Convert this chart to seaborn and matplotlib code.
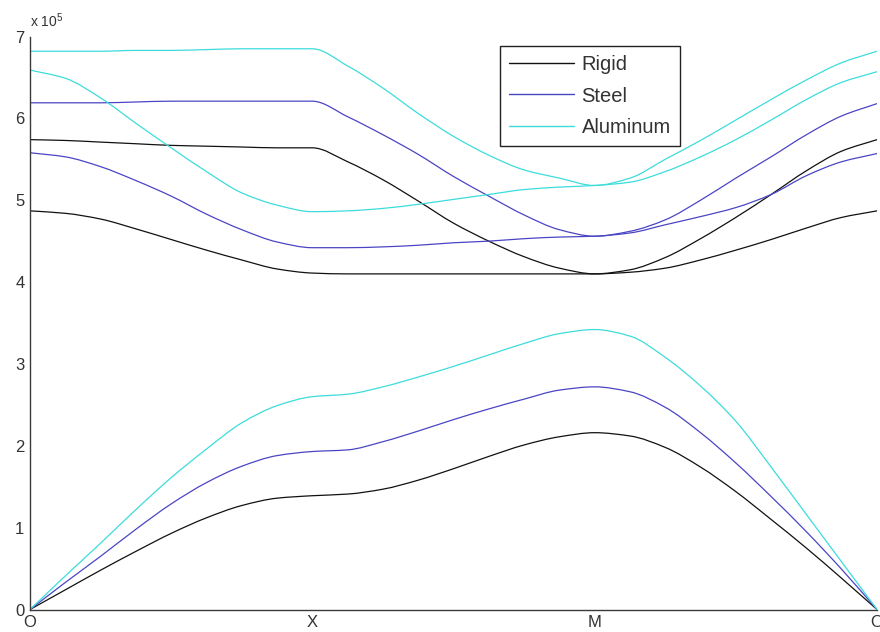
import matplotlib
matplotlib.use("Agg")
import matplotlib.pyplot as plt
from matplotlib.lines import Line2D
from matplotlib.path import Path
from matplotlib.patches import PathPatch
import numpy as np
import pandas as pd
import seaborn as sns

# Wave-vector path O -> X -> M -> O, sampled every 1/8 of a segment
k_path = [i / 8 for i in range(25)]
k_ticks = [0, 1, 2, 3]
k_tick_labels = ["O", "X", "M", "O"]

# Frequencies in units of 1e5
rigid_1 = [0.00, 0.24, 0.48, 0.71, 0.93, 1.12, 1.27, 1.36, 1.39,
           1.41, 1.47, 1.58, 1.72, 1.87, 2.01, 2.11, 2.16,
           2.12, 1.98, 1.74, 1.44, 1.10, 0.75, 0.38, 0.00]
rigid_2 = [4.87, 4.84, 4.77, 4.65, 4.52, 4.39, 4.27, 4.16, 4.11,
           4.10, 4.10, 4.10, 4.10, 4.10, 4.10, 4.10, 4.10,
           4.12, 4.17, 4.27, 4.39, 4.52, 4.66, 4.79, 4.87]
rigid_3 = [5.74, 5.73, 5.71, 5.69, 5.67, 5.66, 5.65, 5.64, 5.64,
           5.47, 5.25, 4.99, 4.72, 4.50, 4.31, 4.17, 4.10,
           4.15, 4.30, 4.53, 4.79, 5.07, 5.36, 5.60, 5.74]

steel_1 = [0.00, 0.33, 0.65, 0.98, 1.29, 1.55, 1.75, 1.88, 1.93,
           1.95, 2.05, 2.18, 2.32, 2.45, 2.57, 2.68, 2.72,
           2.66, 2.47, 2.16, 1.79, 1.38, 0.95, 0.49, 0.00]
steel_2 = [5.58, 5.53, 5.41, 5.24, 5.05, 4.83, 4.64, 4.49, 4.42,
           4.42, 4.43, 4.45, 4.48, 4.50, 4.53, 4.55, 4.56,
           4.60, 4.70, 4.80, 4.91, 5.07, 5.30, 5.47, 5.57]
steel_3 = [6.19, 6.19, 6.19, 6.20, 6.21, 6.21, 6.21, 6.21, 6.21,
           6.02, 5.80, 5.56, 5.29, 5.05, 4.82, 4.64, 4.56,
           4.62, 4.76, 5.00, 5.27, 5.53, 5.80, 6.03, 6.18]

aluminum_1 = [0.00, 0.41, 0.81, 1.22, 1.61, 1.96, 2.28, 2.49, 2.60,
              2.63, 2.72, 2.84, 2.97, 3.11, 3.25, 3.37, 3.42,
              3.34, 3.08, 2.73, 2.30, 1.74, 1.16, 0.58, 0.00]
aluminum_2 = [6.59, 6.49, 6.25, 5.94, 5.64, 5.35, 5.09, 4.94, 4.86,
              4.87, 4.90, 4.95, 5.01, 5.07, 5.13, 5.16, 5.18,
              5.22, 5.35, 5.53, 5.74, 5.98, 6.23, 6.44, 6.57]
aluminum_3 = [6.82, 6.82, 6.82, 6.83, 6.83, 6.84, 6.85, 6.85, 6.85,
              6.64, 6.37, 6.06, 5.78, 5.55, 5.37, 5.27, 5.18,
              5.27, 5.50, 5.73, 5.98, 6.23, 6.47, 6.68, 6.82]

materials = ["Rigid", "Steel", "Aluminum"]
bands = {
    "Rigid": [rigid_1, rigid_2, rigid_3],
    "Steel": [steel_1, steel_2, steel_3],
    "Aluminum": [aluminum_1, aluminum_2, aluminum_3],
}
colors = {"Rigid": "#111111", "Steel": "#4b45c4", "Aluminum": "#3ddcdc"}

rows = []
for mat in materials:
    for b, series in enumerate(bands[mat], start=1):
        for k, f in zip(k_path, series):
            rows.append({"k": k, "freq": f, "material": mat, "band": b})
df = pd.DataFrame(rows)

sns.set_style("white")
plt.rcParams["font.family"] = ["Liberation Sans", "DejaVu Sans"]
plt.rcParams["mathtext.default"] = "regular"

fig = plt.figure(figsize=(8.8, 6.32), dpi=100)
ax = fig.add_axes([30 / 880, 22.5 / 632, 847 / 880, 573 / 632])

sns.lineplot(data=df, x="k", y="freq", hue="material", units="band",
             estimator=None, sort=False, palette=colors, hue_order=materials,
             linewidth=0.9, legend=False, ax=ax)


def smooth_path(x, y):
    """Monotone cubic (Fritsch-Carlson) Bezier path through the points."""
    x = np.asarray(x, float)
    y = np.asarray(y, float)
    h = np.diff(x)
    d = np.diff(y) / h
    m = np.zeros_like(y)
    m[0], m[-1] = d[0], d[-1]
    for i in range(1, len(y) - 1):
        if d[i - 1] * d[i] > 0:
            w1 = 2 * h[i] + h[i - 1]
            w2 = h[i] + 2 * h[i - 1]
            m[i] = (w1 + w2) / (w1 / d[i - 1] + w2 / d[i])
    verts = [(x[0], y[0])]
    codes = [Path.MOVETO]
    for i in range(len(h)):
        verts += [(x[i] + h[i] / 3, y[i] + m[i] * h[i] / 3),
                  (x[i + 1] - h[i] / 3, y[i + 1] - m[i + 1] * h[i] / 3),
                  (x[i + 1], y[i + 1])]
        codes += [Path.CURVE4] * 3
    return Path(verts, codes)


# Render each band as a smooth curve through its sampled points
for line in list(ax.lines):
    xd, yd = line.get_xdata(), line.get_ydata()
    patch = PathPatch(smooth_path(xd, yd), fill=False,
                      edgecolor=line.get_color(), lw=line.get_linewidth(),
                      transform=ax.transData, capstyle="round",
                      joinstyle="round")
    ax.add_patch(patch)
    line.set_visible(False)

ax.set_xlim(0, 3)
ax.set_ylim(0, 7)
ax.set_xticks(k_ticks)
ax.set_xticklabels(k_tick_labels)
ax.set_yticks(range(0, 8))
ax.set_xlabel("")
ax.set_ylabel("")

axis_color = "#3a3a3a"
for side in ["top", "right"]:
    ax.spines[side].set_visible(False)
for side in ["left", "bottom"]:
    ax.spines[side].set_color(axis_color)
    ax.spines[side].set_linewidth(1.0)
ax.tick_params(direction="in", length=6, width=0.9, color=axis_color,
               labelcolor="#333333", labelsize=12, pad=4)
ax.tick_params(axis="x", pad=4)

ax.text(0.0, 1.012, "x 10$^{5}$", transform=ax.transAxes, fontsize=10,
        color="#333333", ha="left", va="bottom")

handles = [Line2D([0], [0], color=colors[m], lw=1.0) for m in materials]
leg = ax.legend(handles, materials, loc="upper left",
                bbox_to_anchor=((500 - 30) / 847, (609.5 - 46) / 573),
                borderaxespad=0, fontsize=14.5, handlelength=3.2,
                handletextpad=0.4, labelspacing=0.62, borderpad=0.45,
                fancybox=False, framealpha=1, edgecolor="#222222")
leg.get_frame().set_linewidth(1.0)
for t in leg.get_texts():
    t.set_color("#333333")

fig.savefig("out.png", dpi=100)
